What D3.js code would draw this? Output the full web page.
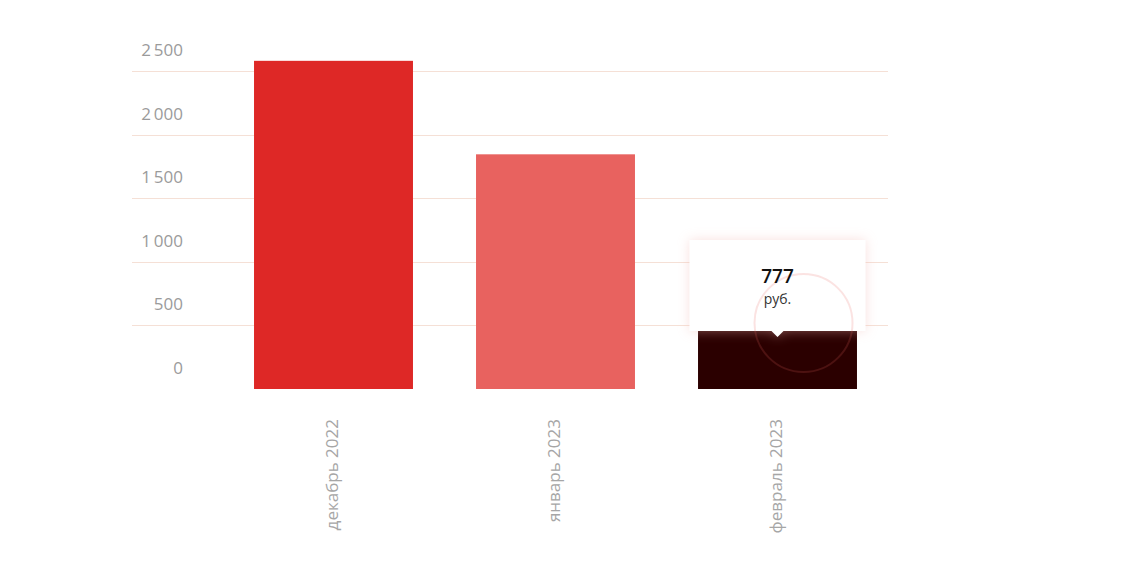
<!DOCTYPE html>
<html lang="ru">
<head>
<meta charset="utf-8">
<script src="https://d3js.org/d3.v7.min.js"></script>
<style>
    body { margin: 0; background: #fff; }
    svg { display: block; }
    text { font-family: "Open Sans", "Noto Sans", sans-serif; }
</style>
</head>
<body>
<svg id="chart"></svg>
<script>
// Data
var months = ["декабрь 2022", "январь 2023", "февраль 2023"];
var values = [2580, 1845, 777];
var barColors = ["#de2826", "#e8625f", "#2b0000"];
var yTicks = [0, 500, 1000, 1500, 2000, 2500];
var activeIndex = 2;
var unit = "руб.";

var width = 1126, height = 578;

var svg = d3.select("#chart")
    .attr("width", width)
    .attr("height", height);

var x = d3.scaleBand()
    .domain(months)
    .range([222.5, 888.5])
    .paddingInner(0.284)
    .paddingOuter(0.142);

var y = d3.scaleLinear()
    .domain([0, 2500])
    .range([389, 71]);

var fmt = function(v) { return d3.format(",")(v).replace(/,/g, "\u2009"); };

// Grid lines
svg.append("g")
    .selectAll("line")
    .data(yTicks.filter(function(d) { return d > 0; }))
    .enter().append("line")
    .attr("x1", 132)
    .attr("x2", 888)
    .attr("y1", function(d) { return Math.round(y(d)) + 0.5; })
    .attr("y2", function(d) { return Math.round(y(d)) + 0.5; })
    .style("stroke", "#f5e0d6")
    .style("stroke-width", 1.2);

// Y labels (sit above their grid line)
svg.append("g")
    .selectAll("text")
    .data(yTicks)
    .enter().append("text")
    .attr("x", 183)
    .attr("y", function(d) { return y(d) - 15; })
    .attr("text-anchor", "end")
    .style("font-size", "17px")
    .style("fill", "#9b9b9b")
    .text(fmt);

// Bars
svg.append("g")
    .selectAll("rect")
    .data(values)
    .enter().append("rect")
    .attr("x", function(d, i) { return x(months[i]); })
    .attr("y", function(d) { return y(d); })
    .attr("width", x.bandwidth())
    .attr("height", function(d) { return y(0) - y(d); })
    .style("fill", function(d, i) { return barColors[i]; });

// X labels, rotated
svg.append("g")
    .selectAll("text")
    .data(months)
    .enter().append("text")
    .attr("transform", function(d) {
        return "translate(" + (x(d) + x.bandwidth() / 2 + 4) + ",419) rotate(-90)";
    })
    .attr("text-anchor", "end")
    .style("font-size", "17px")
    .style("fill", "#a6a6a6")
    .text(function(d) { return d; });

// Tooltip over the active bar
var cx = x(months[activeIndex]) + x.bandwidth() / 2;
var tip = svg.append("g");

var defs = svg.append("defs");
var filter = defs.append("filter")
    .attr("id", "shadow")
    .attr("x", "-30%").attr("y", "-30%")
    .attr("width", "160%").attr("height", "160%");
filter.append("feDropShadow")
    .attr("dx", 0).attr("dy", 0)
    .attr("stdDeviation", 6)
    .attr("flood-color", "#f2b8b4")
    .attr("flood-opacity", 0.45);

tip.append("path")
    .attr("d", "M" + (cx - 88) + ",240 H" + (cx + 88) + " V331 H" + (cx + 6) +
        " L" + cx + ",337 L" + (cx - 6) + ",331 H" + (cx - 88) + " Z")
    .style("fill", "#fff")
    .attr("filter", "url(#shadow)");

tip.append("circle")
    .attr("cx", cx + 26)
    .attr("cy", 323)
    .attr("r", 49)
    .style("fill", "none")
    .style("stroke", "#e8625f")
    .style("stroke-opacity", 0.18)
    .style("stroke-width", 2);

tip.append("text")
    .attr("x", cx)
    .attr("y", 283)
    .attr("text-anchor", "middle")
    .style("font-size", "19px")
    .style("font-weight", "600")
    .style("fill", "#111")
    .text(values[activeIndex]);

tip.append("text")
    .attr("x", cx)
    .attr("y", 304)
    .attr("text-anchor", "middle")
    .style("font-size", "14px")
    .style("fill", "#333")
    .text(unit);
</script>
</body>
</html>
